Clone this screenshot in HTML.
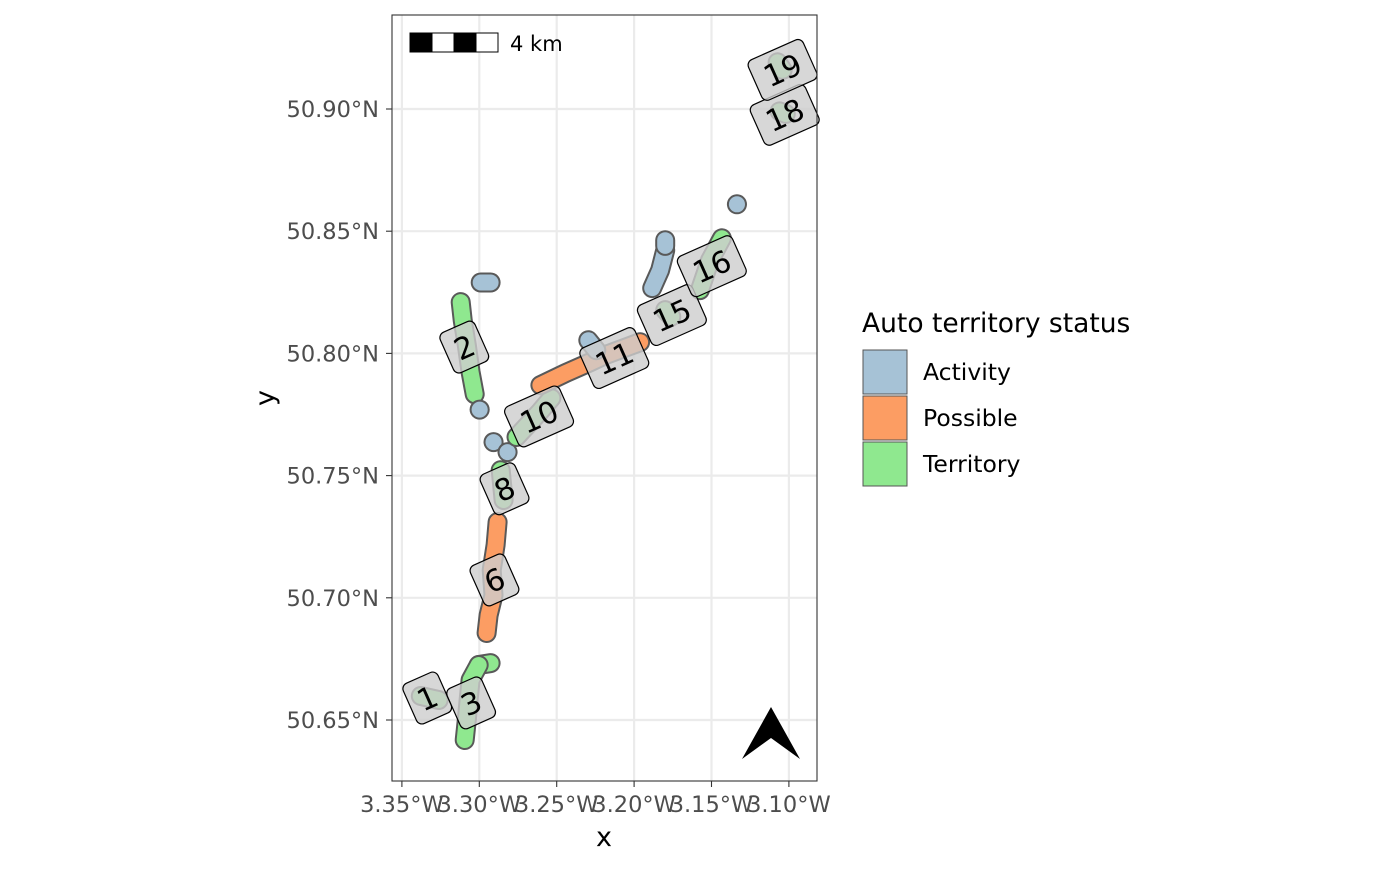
<!DOCTYPE html>
<html><head><meta charset="utf-8"><style>
body{margin:0;background:#fff;width:1400px;height:866px;overflow:hidden;font-family:"DejaVu Sans","Liberation Sans",sans-serif}
</style></head><body>
<svg id="chart" width="1400" height="866" xmlns="http://www.w3.org/2000/svg" font-family="DejaVu Sans, Liberation Sans, sans-serif">
<g id="grid"></g>
<g id="blobs"></g>
<g id="labels"></g>
<rect x="392" y="15" width="425" height="766" fill="none" stroke="#333" stroke-width="1.1"/>
<g id="axes"></g>
<g>
<rect x="410" y="33" width="22" height="19" fill="#000" stroke="#000"/>
<rect x="432" y="33" width="22" height="19" fill="#fff" stroke="#000"/>
<rect x="454" y="33" width="22" height="19" fill="#000" stroke="#000"/>
<rect x="476" y="33" width="22" height="19" fill="#fff" stroke="#000"/>
<text x="510" y="51" font-size="21" fill="#000">4 km</text>
</g>
<polygon points="771,707 800,759 771,738 742,759" fill="#000"/>
<text x="604" y="846" font-size="27" text-anchor="middle">x</text>
<text transform="translate(274,398) rotate(-90)" font-size="27" text-anchor="middle">y</text>
<g>
<text x="862" y="332" font-size="26.5">Auto territory status</text>
<rect x="863" y="350" width="44" height="44" fill="#a6c2d6" stroke="#555"/>
<text x="923" y="380" font-size="23.5">Activity</text>
<rect x="863" y="396" width="44" height="44" fill="#fc9d63" stroke="#555"/>
<text x="923" y="426" font-size="23.5">Possible</text>
<rect x="863" y="442" width="44" height="44" fill="#8fe88f" stroke="#555"/>
<text x="923" y="472" font-size="23.5">Territory</text>
</g>
</svg>
<script>
const xTicks=[-3.35,-3.30,-3.25,-3.20,-3.15,-3.10];
const xTickLabels=["3.35°W","3.30°W","3.25°W","3.20°W","3.15°W","3.10°W"];
const yTicks=[50.65,50.70,50.75,50.80,50.85,50.90];
const yTickLabels=["50.65°N","50.70°N","50.75°N","50.80°N","50.85°N","50.90°N"];
const shapeStatus=["Territory","Activity","Activity","Activity","Activity","Territory","Territory","Possible","Territory","Territory","Territory","Possible","Activity","Activity","Territory","Territory","Activity","Territory","Territory"];
const shapeLon=[
[-3.312,-3.3107,-3.3081,-3.3056,-3.303],
[-3.2991,-3.2927],
[-3.2998],
[-3.2908],
[-3.2818],
[-3.276,-3.2605,-3.2534],
[-3.2862,-3.2843],
[-3.2882,-3.2895,-3.292,-3.2908,-3.294,-3.2953],
[-3.3004,-3.2927],
[-3.3004,-3.3056,-3.3069,-3.3081,-3.3094],
[-3.3378,-3.3262],
[-3.2605,-3.2444,-3.2283,-3.2186,-3.1961],
[-3.2296,-3.2244],
[-3.1883,-3.1832,-3.1799],
[-3.1799,-3.1760],
[-3.1575,-3.151,-3.1433],
[-3.1336],
[-3.106,-3.102],
[-3.1073,-3.104]];
const shapeLat=[
[50.821,50.8136,50.8034,50.7923,50.7833],
[50.829,50.829],
[50.777],
[50.7637],
[50.7596],
[50.7658,50.7764,50.7817],
[50.7522,50.74],
[50.731,50.7216,50.7113,50.7011,50.6929,50.6856],
[50.6725,50.6733],
[50.6725,50.6664,50.6582,50.65,50.6418],
[50.6598,50.6582],
[50.787,50.7919,50.7964,50.7993,50.8046],
[50.8054,50.8013],
[50.8267,50.834,50.8422],
[50.8177,50.815],
[50.8259,50.8381,50.8471],
[50.861],
[50.899,50.898],
[50.9191,50.916]];
const blueTopLon=[-3.1799,-3.1799];
const blueTopLat=[50.8463,50.8440];
const labelText=["1","3","6","8","10","11","15","16","18","19","2"];
const labelLon=[-3.3336,-3.3053,-3.2902,-3.2837,-3.2614,-3.2128,-3.1756,-3.1498,-3.1027,-3.1041,-3.3097];
const labelLat=[50.659,50.657,50.7073,50.7446,50.7742,50.7981,50.8157,50.8357,50.8976,50.916,50.8026];

const X=lon=>401.9+(lon+3.35)/0.05*77.4;
const Y=lat=>720-(lat-50.65)/0.05*122.2;
const NS="http://www.w3.org/2000/svg";
function mk(tag,attrs,parent){const e=document.createElementNS(NS,tag);for(const k in attrs)e.setAttribute(k,attrs[k]);parent.appendChild(e);return e;}
const colors={Activity:"#a6c2d6",Possible:"#fc9d63",Territory:"#8fe88f"};
const grid=document.getElementById('grid'),axes=document.getElementById('axes');
xTicks.forEach((v,i)=>{
 const g=mk('line',{x1:X(v),x2:X(v),y1:15,y2:781,stroke:"#ebebeb","stroke-width":2.2},grid);
 
 
 const t=mk('line',{x1:X(v),x2:X(v),y1:781,y2:787,stroke:"#333","stroke-width":1.1},axes);
 
 
 const l=mk('text',{x:X(v),y:812,"font-size":22.5,fill:"#4d4d4d","text-anchor":"middle"},axes);
 l.textContent=xTickLabels[i];
 
 
});
yTicks.forEach((v,i)=>{
 const g=mk('line',{x1:392,x2:817,y1:Y(v),y2:Y(v),stroke:"#ebebeb","stroke-width":2.2},grid);
 
 
 const t=mk('line',{x1:386,x2:392,y1:Y(v),y2:Y(v),stroke:"#333","stroke-width":1.1},axes);
 
 
 const l=mk('text',{x:379,y:Y(v)+8,"font-size":22.5,fill:"#4d4d4d","text-anchor":"end"},axes);
 l.textContent=yTickLabels[i];
 
 
});
const blobs=document.getElementById('blobs');
function drawShape(lons,lats,status){
 let d=lons.map((v,j)=>(j?'L':'M')+X(v).toFixed(1)+','+Y(lats[j]).toFixed(1)).join(' ');
 if(lons.length===1)d+=' l0.1,0';
 const o=mk('path',{d:d,fill:"none",stroke:"#595959","stroke-width":20,"stroke-linecap":"round","stroke-linejoin":"round"},blobs);
 
 
 const f=mk('path',{d:d,fill:"none",stroke:colors[status],"stroke-width":16,"stroke-linecap":"round","stroke-linejoin":"round"},blobs);
 
 
}
shapeLon.forEach((lons,i)=>drawShape(lons,shapeLat[i],shapeStatus[i]));
drawShape(blueTopLon,blueTopLat,"Activity");
const labels=document.getElementById('labels');
labelText.forEach((s,i)=>{
 const g=mk('g',{transform:`translate(${X(labelLon[i])},${Y(labelLat[i])}) rotate(-24)`},labels);
 
 
 const w=s.length>1?60:38,h=44;
 mk('rect',{x:-w/2,y:-h/2,width:w,height:h,rx:6,fill:"rgba(205,205,205,0.8)",stroke:"#000","stroke-width":1.2},g);
 const t=mk('text',{x:0,y:11,"font-size":30,"text-anchor":"middle",fill:"#000"},g);
 t.textContent=s;
});
</script>
</body></html>
